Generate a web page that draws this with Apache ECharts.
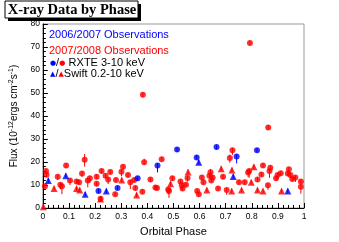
<!DOCTYPE html>
<html><head><meta charset="utf-8">
<script src="https://cdn.jsdelivr.net/npm/echarts@6/dist/echarts.min.js"></script>
<style>html,body{margin:0;padding:0;background:#fff}#c{width:339px;height:242px}</style>
</head><body><div id="c"></div>
<script>
// [phase, flux, errDown, errUp]
const rxte0607 = [[0.213,7.4,1,1],[0.286,8.75,1,1],[0.363,12.9,1,1],[0.439,18.5,3,1],[0.514,25.4,1,1],[0.589,22,1,1],[0.665,26.5,1,1],[0.742,22.4,3,1],[0.82,25.1,1,1]];
const swift0607 = [[0.021,12,1,1],[0.088,14,1,1],[0.162,6,1,1],[0.243,7.4,1,1],[0.597,19.9,1,1],[0.729,13.75,1,1],[0.938,7.4,1,1]];
const rxte0708 = [[0.012,16.1,1,1],[0.014,14.5,1,1],[0.008,9.5,1,1],[0.057,13.6,1.5,1],[0.067,10.1,2,1],[0.073,9.5,3.5,1],[0.089,18.5,1,1],[0.104,12,2,1],[0.129,11.5,1,1],[0.139,11.2,1,1],[0.16,21,3,2.5],[0.15,15,1.5,1],[0.172,12,3,1],[0.18,12.9,2,1],[0.206,13.6,1,1],[0.206,10.5,1,1],[0.221,4,1,1],[0.225,16.1,1,1],[0.24,14,1,1],[0.25,12.4,2,1],[0.258,15.7,1,1],[0.277,6,1,1],[0.28,12.2,1,1],[0.301,15.8,2,1],[0.307,17.9,1,1],[0.326,14.3,1,1],[0.335,11.25,3,1],[0.35,12.2,1,1],[0.354,8.75,1,1],[0.381,7.1,1,1],[0.383,49.2,1,1],[0.388,19.9,1,1.5],[0.412,12.4,1,1],[0.431,8.9,1,1],[0.437,8.75,1,1],[0.455,21.25,1,1],[0.48,8,2,1],[0.483,7.4,3,1],[0.496,12.9,1,1],[0.527,11.5,1,1],[0.532,9.9,2,1],[0.535,8.5,1,1],[0.548,10.1,1,1],[0.554,13,1.5,1],[0.591,7.4,1,1],[0.597,6,1,1],[0.609,13.3,1,1],[0.615,11.25,1,1],[0.638,14,1,1],[0.642,15.5,1,1.5],[0.645,12,1,1],[0.65,13.3,1,1],[0.671,8.5,1,1],[0.69,13.6,1,1],[0.704,7.8,2,1],[0.716,21.7,2,1.5],[0.726,25.1,2,1],[0.751,11.25,1,1],[0.773,11.25,1,1],[0.786,15.4,2,1],[0.79,16.1,3,1],[0.793,71.7,1,1],[0.822,12.4,1,1],[0.837,14.6,1,1],[0.843,18.5,1,1],[0.862,9.9,2,1],[0.863,35,1,1],[0.868,16.1,3,1],[0.871,17.5,1,1],[0.893,12.9,1,1],[0.899,14.3,2,1],[0.911,15.1,1,1],[0.942,16.8,2,1],[0.938,15,1,1],[0.948,14.3,1,1],[0.955,12.6,1,1],[0.967,13.3,2,1],[0.988,11.5,1,1],[0.988,9.2,3,1]];
const swift0708 = [[0.002,0.5,0.5,0.5],[0.043,8.5,1,1],[0.129,8.5,1,1],[0.141,7.8,1,1],[0.221,3.9,1,1],[0.302,12.2,1,1],[0.359,5.7,1,1],[0.489,10.5,1,1],[0.556,15.7,1,1],[0.628,7.8,1,1],[0.683,17.1,1,1],[0.723,7.4,1,1],[0.724,16.5,1,1],[0.761,7.8,1,1],[0.798,11.25,1,1],[0.808,17.9,1,1],[0.822,7.8,1,1],[0.843,7.4,1,1],[0.914,7.4,1,1]];
const xTicks = {min:0, max:1, step:0.1};
const yTicks = {min:0, max:80, step:10};
const titleText = 'X-ray Data by Phase';
const legendLines = ['2006/2007 Observations','2007/2008 Observations','RXTE 3-10 keV','Swift 0.2-10 keV'];

const BLUE = '#0000ff', RED = '#ff0000';
const chart = echarts.init(document.getElementById('c'));

function errSeries(data, color) {
  return {
    type: 'custom', data: data, encode: {x: 0, y: 1}, z: 2, silent: true,
    renderItem: function (params, api) {
      const x = api.value(0), y = api.value(1), lo = api.value(2), hi = api.value(3);
      const p1 = api.coord([x, y - lo]), p2 = api.coord([x, y + hi]);
      return {type: 'line', shape: {x1: p1[0], y1: p1[1], x2: p2[0], y2: p2[1]}, style: {stroke: color, lineWidth: 1}};
    }
  };
}
function scat(data, color, sym, size) {
  return {type: 'scatter', data: data.map(d => [d[0], d[1]]), symbol: sym, symbolSize: size, z: 3,
    itemStyle: {color: color}};
}

const font = 'Liberation Sans, Arial, sans-serif';
chart.setOption({
  animation: false,
  grid: {left: 33.5, top: 24, right: 35, bottom: 25, show: true, borderColor: '#999', borderWidth: 1},
  xAxis: {
    type: 'value', min: xTicks.min, max: xTicks.max, interval: xTicks.step,
    axisLine: {lineStyle: {color: '#000', width: 1}},
    axisTick: {inside: true, length: 5, lineStyle: {color: '#000'}},
    minorTick: {show: true, splitNumber: 5, length: 3, lineStyle: {color: '#000'}},
    splitLine: {show: false},
    axisLabel: {fontFamily: font, fontSize: 8.5, color: '#000', margin: 4,
      formatter: v => (v === 0 || v === 1) ? String(v) : v.toFixed(1)},
    name: 'Orbital Phase', nameLocation: 'middle', nameGap: 18,
    nameTextStyle: {fontFamily: font, fontSize: 11, color: '#000'}
  },
  yAxis: {
    type: 'value', min: yTicks.min, max: yTicks.max, interval: yTicks.step,
    axisLine: {show: true, lineStyle: {color: '#000', width: 1}},
    axisTick: {show: true, inside: true, length: 5, lineStyle: {color: '#000'}},
    minorTick: {show: true, splitNumber: 5, length: 3, lineStyle: {color: '#000'}},
    splitLine: {show: false},
    axisLabel: {fontFamily: font, fontSize: 8.5, color: '#000', margin: 3},
    name: '{n|Flux (10}{s|-12}{n|ergs cm}{s|-2}{n|s}{s|-1}{n|)}', nameLocation: 'middle', nameGap: 18,
    nameTextStyle: {fontFamily: font, fontSize: 10, color: '#000',
      rich: {n: {fontFamily: font, fontSize: 10, color: '#000'}, s: {fontFamily: font, fontSize: 7, color: '#000', verticalAlign: 'top', padding: [0,0,6,0]}}}
  },
  series: [
    errSeries(rxte0708, RED), errSeries(swift0708, RED), errSeries(rxte0607, BLUE), errSeries(swift0607, BLUE),
    scat(rxte0708, RED, 'circle', 6), scat(swift0708, RED, 'triangle', 7),
    scat(rxte0607, BLUE, 'circle', 6), scat(swift0607, BLUE, 'triangle', 7)
  ],
  graphic: [
    {type: 'rect', shape: {x: 8, y: 4, width: 133, height: 17}, style: {fill: '#000'}, z: 10},
    {type: 'rect', shape: {x: 5, y: 1, width: 133, height: 17}, style: {fill: '#fff', stroke: '#000', lineWidth: 1}, z: 11},
    {type: 'text', x: 72, y: 10, z: 12, style: {text: titleText, fontFamily: 'Liberation Serif, Times New Roman, serif', fontWeight: 'bold', fontSize: 14.5, fill: '#000', align: 'center', verticalAlign: 'middle'}},
    {type: 'text', x: 49, y: 35, z: 12, style: {text: legendLines[0], fontFamily: font, fontSize: 11, fill: BLUE, verticalAlign: 'middle'}},
    {type: 'text', x: 49, y: 51, z: 12, style: {text: legendLines[1], fontFamily: font, fontSize: 11, fill: RED, verticalAlign: 'middle'}},
    {type: 'text', x: 50, y: 63, z: 12, style: {text: '{b|●}{k|/}{r|●} {k|' + legendLines[2] + '}', verticalAlign: 'middle',
      rich: {b: {fill: BLUE, fontSize: 7, fontFamily: 'DejaVu Sans'}, r: {fill: RED, fontSize: 7, fontFamily: 'DejaVu Sans'}, k: {fill: '#000', fontSize: 11, fontFamily: font}}}},
    {type: 'text', x: 50, y: 74, z: 12, style: {text: '{b|▲}{k|/}{r|▲}{k|' + legendLines[3] + '}', verticalAlign: 'middle',
      rich: {b: {fill: BLUE, fontSize: 7, fontFamily: 'DejaVu Sans'}, r: {fill: RED, fontSize: 7, fontFamily: 'DejaVu Sans'}, k: {fill: '#000', fontSize: 11, fontFamily: font}}}}
  ]
});
</script></body></html>
